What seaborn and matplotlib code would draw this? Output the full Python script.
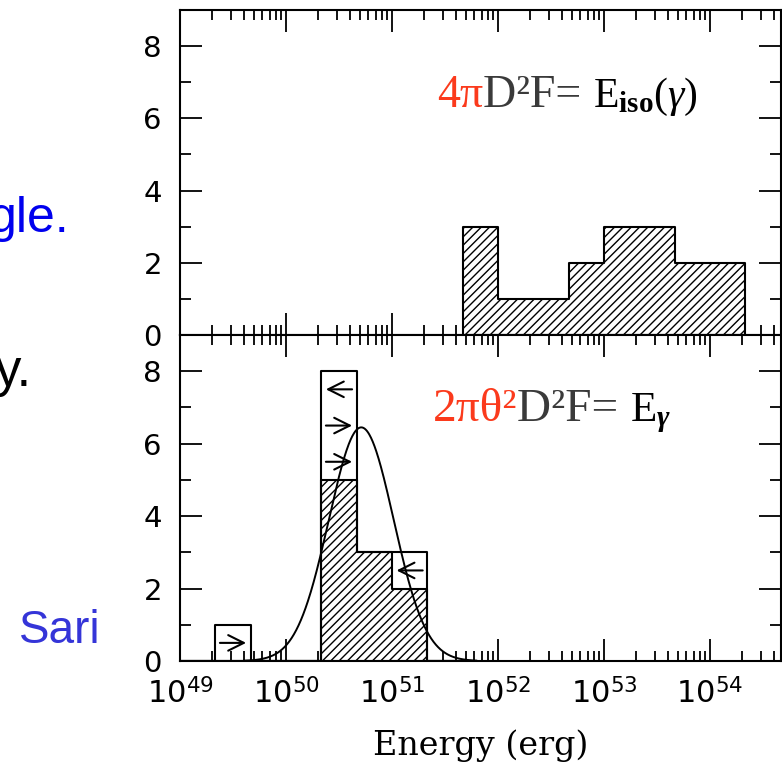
import numpy as np
import pandas as pd
import matplotlib
matplotlib.use("Agg")
import matplotlib.pyplot as plt
import seaborn as sns
from matplotlib.ticker import FixedLocator, FuncFormatter, MultipleLocator
from matplotlib.offsetbox import TextArea, HPacker, AnnotationBbox

# ---------------- data ----------------
# Top panel: isotropic energy E_iso(gamma); bins in log10(E / erg)
eiso_bin_edges = [51.667, 52.0, 52.333, 52.667, 53.0, 53.333, 53.667, 54.0, 54.333]
eiso_counts = [3, 1, 1, 2, 3, 3, 2, 2]

# Bottom panel: beaming-corrected energy E_gamma
egam_bin_edges = [49.0, 49.333, 49.667, 50.0, 50.333, 50.667, 51.0, 51.333, 51.667]
egam_counts = [0, 0, 0, 0, 5, 3, 2, 0]          # hatched (measured)
egam_limit_counts = [0, 1, 0, 0, 3, 0, 1, 0]    # open boxes (limits)

# limit arrows: bin index, count level, direction
limit_bin = [1, 4, 4, 4, 6]
limit_level = [0.5, 7.5, 6.5, 5.5, 2.5]
limit_dir = ["right", "left", "right", "right", "left"]

# log-normal fit drawn over the E_gamma histogram
gauss_center = 50.71
gauss_sigma = 0.305
gauss_peak = 6.45
gauss_range = (49.6, 51.8)

decades = [49, 50, 51, 52, 53, 54]
x_limits = (49.0, 54.67)
y_limits = (0, 9)

# ---------------- style ----------------
sns.set_theme(style="white")
plt.rcParams["font.family"] = ["Liberation Serif", "DejaVu Serif"]
plt.rcParams["mathtext.fontset"] = "custom"
plt.rcParams["mathtext.rm"] = "Liberation Serif"
plt.rcParams["mathtext.it"] = "Liberation Serif:italic"
plt.rcParams["mathtext.bf"] = "Liberation Serif:bold"
plt.rcParams["mathtext.bfit"] = "Liberation Serif:italic:bold"
plt.rcParams["mathtext.sf"] = "DejaVu Sans"
plt.rcParams["hatch.linewidth"] = 1.0
plt.rcParams["hatch.color"] = "black"

W, H = 782, 772
fig = plt.figure(figsize=(W / 100, H / 100), dpi=100)
fig.patch.set_facecolor("white")

ax_l, ax_r = 180, 781
ax_top = fig.add_axes([ax_l / W, 1 - 335 / H, (ax_r - ax_l) / W, 325 / H])
ax_bot = fig.add_axes([ax_l / W, 1 - 661 / H, (ax_r - ax_l) / W, 326 / H])


def centers(edges):
    e = np.asarray(edges)
    return (e[:-1] + e[1:]) / 2


# top histogram
df_top = pd.DataFrame({"logE": centers(eiso_bin_edges), "n": eiso_counts})
sns.histplot(data=df_top, x="logE", weights="n", bins=eiso_bin_edges,
             element="step", fill=True, color="white", edgecolor="black",
             linewidth=1.5, hatch="////", alpha=1, ax=ax_top)

# bottom histogram (measured, hatched)
df_bot = pd.DataFrame({"logE": centers(egam_bin_edges), "n": egam_counts,
                       "tot": np.add(egam_counts, egam_limit_counts)})
sns.histplot(data=df_bot, x="logE", weights="n", bins=egam_bin_edges,
             element="step", fill=True, color="white", edgecolor="black",
             linewidth=1.5, hatch="////", alpha=1, ax=ax_bot)
# outline including limits
sns.histplot(data=df_bot, x="logE", weights="tot", bins=egam_bin_edges,
             element="step", fill=False, color="black", linewidth=1.5,
             alpha=1, ax=ax_bot)

# limit arrows
for b, lvl, d in zip(limit_bin, limit_level, limit_dir):
    lo, hi = egam_bin_edges[b], egam_bin_edges[b + 1]
    m = 0.13 * (hi - lo)
    left, right = lo + m, hi - m
    head, tail = (right, left) if d == "right" else (left, right)
    ax_bot.annotate("", xy=(head, lvl), xytext=(tail, lvl),
                    arrowprops=dict(arrowstyle="->", lw=1.5, color="black",
                                    mutation_scale=28, shrinkA=0, shrinkB=0))

# gaussian fit curve
gx = np.linspace(gauss_range[0], gauss_range[1], 400)
gy = gauss_peak * np.exp(-0.5 * ((gx - gauss_center) / gauss_sigma) ** 2)
sns.lineplot(x=gx, y=gy, color="black", linewidth=1.4, ax=ax_bot)

# axes formatting
minor_x = [n + np.log10(k) for n in range(49, 55) for k in range(2, 10)
           if n + np.log10(k) < x_limits[1]]
for ax in (ax_top, ax_bot):
    ax.set_xlim(*x_limits)
    ax.set_ylim(*y_limits)
    ax.set_xlabel("")
    ax.set_ylabel("")
    ax.xaxis.set_major_locator(FixedLocator(decades))
    ax.xaxis.set_minor_locator(FixedLocator(minor_x))
    ax.yaxis.set_major_locator(MultipleLocator(2))
    ax.yaxis.set_minor_locator(MultipleLocator(1))
    ax.tick_params(axis="x", which="both", direction="in", top=True, bottom=True,
                   width=1.3, color="black", labelcolor="black")
    ax.tick_params(axis="x", which="major", length=16)
    ax.tick_params(axis="x", which="minor", length=7)
    ax.tick_params(axis="y", which="both", direction="in", left=True, right=True,
                   width=1.3, color="black", labelcolor="black", labelsize=21, pad=13)
    ax.tick_params(axis="y", which="major", length=16)
    ax.tick_params(axis="y", which="minor", length=8)
    for lab in ax.get_yticklabels():
        lab.set_family("DejaVu Sans")
    for s in ax.spines.values():
        s.set_linewidth(1.5)
        s.set_color("black")
    ax.set_facecolor("white")
    ax.grid(False)

ax_top.tick_params(axis="x", labelbottom=False)
ax_bot.xaxis.set_major_formatter(
    FuncFormatter(lambda v, p: r"$\mathsf{10}^{\mathsf{%d}}$" % round(v)))
ax_bot.tick_params(axis="x", which="major", labelsize=22, pad=13)
ax_bot.set_xlabel("Energy (erg)", family="DejaVu Serif", fontsize=24,
                  labelpad=14, color="black")

# equation labels
red = "#fb3a1c"
gray = "#3a3a3a"


def eq(ax, parts, xy):
    boxes = [TextArea(t, textprops=dict(color=c, fontsize=s, family="Liberation Serif"))
             for t, c, s in parts]
    pack = HPacker(children=boxes, align="baseline", pad=0, sep=0)
    ab = AnnotationBbox(pack, xy, xycoords="axes fraction", box_alignment=(0, 0.5),
                        frameon=False)
    ax.add_artist(ab)


eq(ax_top, [("4π", red, 33), ("D²F= ", gray, 33),
            (r"$\mathrm{E}_{\mathbf{iso}}(\gamma)$", "black", 30)], (0.428, 0.735))
eq(ax_bot, [("2πθ²", red, 34), ("D²F= ", gray, 34),
            (r"$\mathrm{E}_{\boldsymbol{\gamma}}$", "black", 31)], (0.420, 0.765))

# slide remnants at the left edge
fig.text(70 / W, 1 - 232 / H, "gle.", color="#0000ee", fontsize=36,
         family="Liberation Sans", ha="right", va="baseline")
fig.text(32 / W, 1 - 386 / H, "y.", color="black", fontsize=38,
         family="Liberation Sans", ha="right", va="baseline")
fig.text(101 / W, 1 - 643 / H, "Sari", color="#3535d8", fontsize=33,
         family="Liberation Sans", ha="right", va="baseline")

fig.savefig("out.png", dpi=100, facecolor="white")
